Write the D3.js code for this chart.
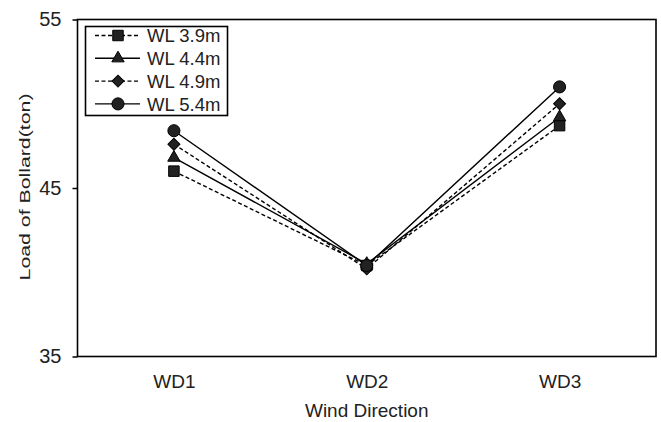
<!DOCTYPE html>
<html>
<head>
<meta charset="utf-8">
<script src="https://cdn.jsdelivr.net/npm/d3@7"></script>
<style>
  body { margin: 0; background: #fff; }
  svg { font-family: "Liberation Sans", Arial, sans-serif; }
</style>
</head>
<body>
<svg id="chart" width="661" height="422"></svg>
<script>
// data
var categories = ["WD1", "WD2", "WD3"];
var seriesNames = ["WL 3.9m", "WL 4.4m", "WL 4.9m", "WL 5.4m"];
var wl39 = [46.0, 40.4, 48.7];
var wl44 = [46.8, 40.5, 49.2];
var wl49 = [47.6, 40.2, 50.0];
var wl54 = [48.4, 40.4, 51.0];
var yTicks = [35, 45, 55];

var seriesValues = [wl39, wl44, wl49, wl54];
// diamond = square turned 45deg (d3's own diamond is too narrow)
var symbols = [d3.symbolSquare, d3.symbolTriangle, d3.symbolSquare, d3.symbolCircle];
var symSizes = [110, 66, 72, 115];
var symRotate = [0, 0, 45, 0];
var dashes = ["4,2.5", null, "4,2.5", null];

var margin = {top: 19.5, right: 5, bottom: 65.5, left: 77.5},
    width = 661 - margin.left - margin.right,
    height = 422 - margin.top - margin.bottom;

var svg = d3.select("#chart");
var g = svg.append("g")
  .attr("transform", "translate(" + margin.left + "," + margin.top + ")");

var x = d3.scalePoint()
  .domain(categories)
  .range([0, width])
  .padding(0.5);

var y = d3.scaleLinear()
  .domain([35, 55])
  .range([height, 0]);

// frame
g.append("rect")
  .attr("width", width)
  .attr("height", height)
  .attr("fill", "none")
  .attr("stroke", "#000")
  .attr("stroke-width", 1.6);

// y axis
var yAxis = g.append("g")
  .call(d3.axisLeft(y).tickValues(yTicks).tickSize(5).tickPadding(11));
yAxis.select(".domain").remove();
yAxis.selectAll("line").attr("stroke-width", 1.5);
yAxis.selectAll("text")
  .style("font-size", "20px")
  .style("font-family", "Liberation Sans, Arial, sans-serif")
  .attr("fill", "#222");

// x axis (labels only)
var xAxis = g.append("g")
  .attr("transform", "translate(0," + height + ")")
  .call(d3.axisBottom(x).tickSize(0).tickPadding(0));
xAxis.select(".domain").remove();
xAxis.selectAll("text")
  .attr("dy", null)
  .attr("y", 31.5)
  .style("font-size", "19px")
  .style("font-family", "Liberation Sans, Arial, sans-serif")
  .attr("fill", "#222");

// axis titles
svg.append("text")
  .attr("x", margin.left + width / 2)
  .attr("y", 417)
  .style("text-anchor", "middle")
  .style("font-size", "19px")
  .attr("fill", "#222")
  .text("Wind Direction");

svg.append("text")
  .attr("transform", "translate(30,187) rotate(-90) scale(1.42,1)")
  .style("text-anchor", "middle")
  .style("font-size", "15px")
  .attr("fill", "#222")
  .text("Load of Bollard(ton)");

// lines + markers
var line = d3.line()
  .x(function(d, i) { return x(categories[i]); })
  .y(function(d) { return y(d); });

seriesValues.forEach(function(vals, s) {
  g.append("path")
    .datum(vals)
    .attr("d", line)
    .attr("fill", "none")
    .attr("stroke", "#000")
    .attr("stroke-width", 1.4)
    .attr("stroke-dasharray", dashes[s]);
});

seriesValues.forEach(function(vals, s) {
  g.selectAll(".m" + s)
    .data(vals)
    .enter()
    .append("path")
      .attr("d", d3.symbol().type(symbols[s]).size(symSizes[s]))
      .attr("transform", function(d, i) {
        return "translate(" + x(categories[i]) + "," + y(d) + ") rotate(" + symRotate[s] + ")";
      })
      .attr("fill", "#222")
      .attr("stroke", "#000")
      .attr("stroke-width", 1);
});

// legend
var legend = svg.append("g");
legend.append("rect")
  .attr("x", 85.5)
  .attr("y", 26.5)
  .attr("width", 142)
  .attr("height", 89)
  .attr("fill", "#fff")
  .attr("stroke", "#000")
  .attr("stroke-width", 1.6);

seriesNames.forEach(function(name, s) {
  var ly = 35.5 + s * 22.8;
  legend.append("line")
    .attr("x1", 95).attr("x2", 140)
    .attr("y1", ly).attr("y2", ly)
    .attr("stroke", "#000")
    .attr("stroke-width", 1.4)
    .attr("stroke-dasharray", dashes[s]);
  legend.append("path")
    .attr("d", d3.symbol().type(symbols[s]).size(symSizes[s]))
    .attr("transform", "translate(118," + ly + ") rotate(" + symRotate[s] + ")")
    .attr("fill", "#222")
    .attr("stroke", "#000");
  legend.append("text")
    .attr("x", 147)
    .attr("y", ly)
    .attr("dy", "0.36em")
    .style("font-size", "18.5px")
    .attr("fill", "#222")
    .text(name);
});
</script>
</body>
</html>
